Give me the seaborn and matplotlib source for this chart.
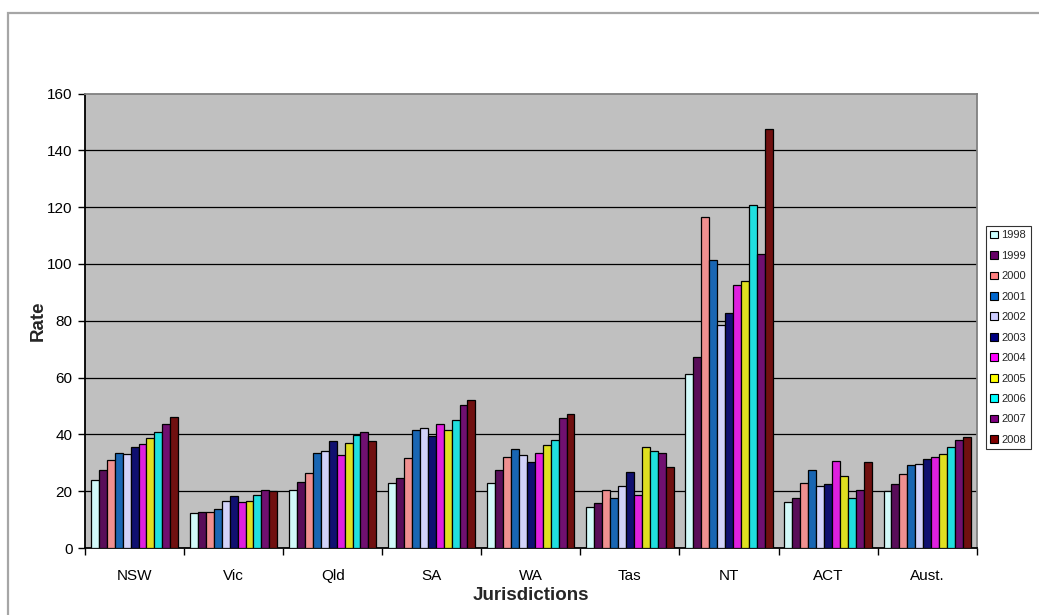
import matplotlib
matplotlib.use("Agg")
import matplotlib.pyplot as plt
from matplotlib.patches import Patch, Rectangle
import seaborn as sns
import pandas as pd

jurisdictions = ["NSW", "Vic", "Qld", "SA", "WA", "Tas", "NT", "ACT", "Aust."]
years = ["1998", "1999", "2000", "2001", "2002", "2003", "2004", "2005", "2006", "2007", "2008"]
colors = ["#CCFFFF", "#660066", "#FF8080", "#0066CC", "#CCCCFF", "#000080",
          "#FF00FF", "#FFFF00", "#00FFFF", "#800080", "#800000"]

nsw = [23.8, 27.5, 30.9, 33.5, 33.0, 35.5, 36.5, 38.6, 40.7, 43.6, 46.2]
vic = [12.3, 12.7, 12.7, 13.7, 16.5, 18.2, 16.1, 16.5, 18.6, 20.4, 19.9]
qld = [20.4, 23.3, 26.3, 33.5, 34.3, 37.6, 32.9, 36.8, 39.7, 40.7, 37.6]
sa = [22.9, 24.5, 31.8, 41.5, 42.2, 39.4, 43.6, 41.5, 45.2, 50.3, 52.0]
wa = [22.9, 27.5, 32.1, 34.7, 32.6, 30.2, 33.5, 36.3, 38.1, 45.6, 47.0]
tas = [14.4, 15.7, 20.4, 17.5, 21.7, 26.8, 18.5, 35.5, 34.3, 33.5, 28.5]
nt = [61.3, 67.2, 116.6, 101.4, 78.6, 82.7, 92.5, 93.9, 120.8, 103.6, 147.6]
act = [16.1, 17.5, 22.9, 27.5, 22.0, 22.5, 30.5, 25.4, 17.5, 20.4, 30.1]
aust = [19.9, 22.5, 25.9, 29.2, 29.6, 31.3, 32.2, 33.0, 35.5, 38.1, 38.9]

yticks = [0, 20, 40, 60, 80, 100, 120, 140, 160]

series = [nsw, vic, qld, sa, wa, tas, nt, act, aust]
rows = []
for j, vals in zip(jurisdictions, series):
    for y, v in zip(years, vals):
        rows.append({"Jurisdiction": j, "Year": y, "Rate": v})
df = pd.DataFrame(rows)

sns.set_theme(style="white")
plt.rcParams["font.family"] = ["Liberation Sans", "DejaVu Sans"]

W, H = 1039, 615
fig = plt.figure(figsize=(W / 100, H / 100), dpi=100)
fig.patch.set_facecolor("white")

# outer chart border
fig.patches.append(Rectangle((7.5 / W, -0.2), 1.2, 1.2 - 12.5 / H,
                             transform=fig.transFigure, fill=False,
                             edgecolor="#A6A6A6", linewidth=1.6, zorder=0))

left, right, top, bottom = 85, 976.7, 93.5, 548
ax = fig.add_axes([left / W, 1 - bottom / H, (right - left) / W, (bottom - top) / H])
ax.set_facecolor("#C0C0C0")

sns.barplot(data=df, x="Jurisdiction", y="Rate", hue="Year", order=jurisdictions,
            hue_order=years, palette=colors, width=0.88, gap=0,
            edgecolor="black", linewidth=0.9, legend=False, ax=ax, zorder=3)

ax.set_ylim(0, 160)
ax.set_xlim(-0.5, len(jurisdictions) - 0.5)
ax.set_yticks(yticks)
ax.set_yticklabels([str(t) for t in yticks], fontsize=11, color="black")
for t in yticks[1:-1]:
    ax.axhline(t, color="black", linewidth=0.9, zorder=1)

ax.set_xticks(range(len(jurisdictions)))
ax.set_xticklabels(jurisdictions, fontsize=11, color="black")
ax.tick_params(axis="x", which="major", length=0, pad=15)
ax.set_xticks([i - 0.5 for i in range(len(jurisdictions) + 1)], minor=True)
ax.tick_params(axis="x", which="minor", length=5, width=1, color="black", direction="out", bottom=True)
ax.tick_params(axis="y", which="major", length=5, width=1, color="black", direction="out", left=True, pad=4)

for s in ["left", "bottom"]:
    ax.spines[s].set_color("black")
    ax.spines[s].set_linewidth(1.3)
for s in ["top", "right"]:
    ax.spines[s].set_color("#808080")
    ax.spines[s].set_linewidth(1.3)

ax.set_xlabel("Jurisdictions", fontsize=13.5, fontweight="bold", labelpad=3)
ax.set_ylabel("Rate", fontsize=13.5, fontweight="bold", labelpad=0)

handles = [Patch(facecolor=c, edgecolor="black", linewidth=0.8) for c in colors]
leg = ax.legend(handles, years, loc="upper left",
                bbox_to_anchor=(986 / W, 1 - 226 / H), bbox_transform=fig.transFigure,
                fontsize=8, handlelength=0.7, handleheight=0.7, handletextpad=0.3,
                labelspacing=0.94, borderpad=0.4, borderaxespad=0,
                frameon=True, fancybox=False, shadow=False)
leg.get_frame().set_edgecolor("black")
leg.get_frame().set_linewidth(0.8)

fig.savefig("out.png", dpi=100)
